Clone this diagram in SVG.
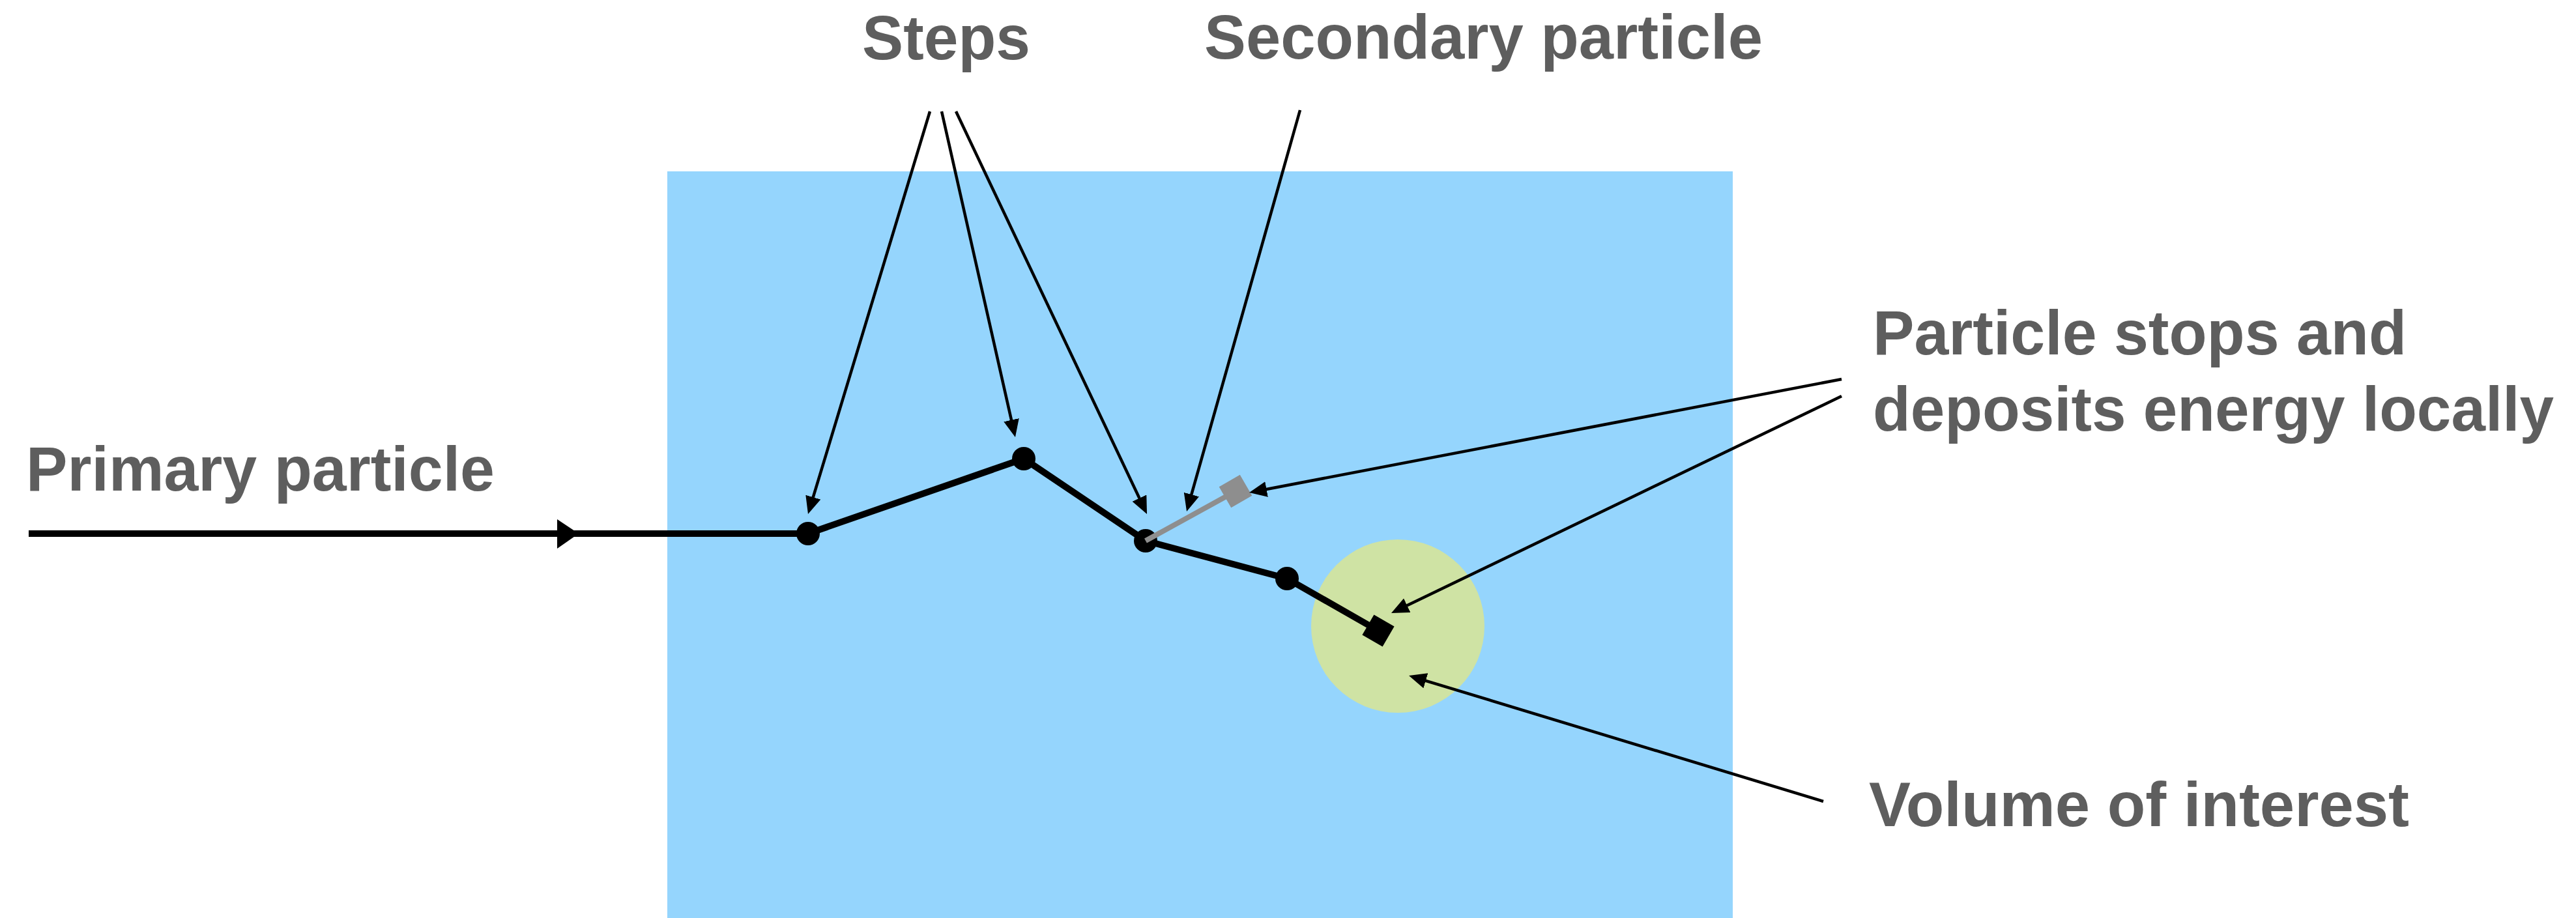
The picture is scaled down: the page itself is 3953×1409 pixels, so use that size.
<svg xmlns="http://www.w3.org/2000/svg" width="3953" height="1409" viewBox="0 0 3953 1409">
  <defs>
    <marker id="ah" markerUnits="userSpaceOnUse" markerWidth="30" markerHeight="26" refX="19" refY="12" orient="auto">
      <path d="M0,0 L27,12 L0,24 z" fill="#000"/>
    </marker>
    <style>
      .lbl { font-family: "Liberation Sans", Arial, sans-serif; font-weight: bold; font-size: 97px; fill: #5e5e5e; }
      .ptr { stroke: #000; stroke-width: 4.5; fill: none; marker-end: url(#ah); }
      .trk { stroke: #000; stroke-width: 10; fill: none; stroke-linejoin: round; }
      .dot { fill: #000; }
    </style>
  </defs>
  <rect width="3953" height="1409" fill="#fff"/>

  <g id="medium">
    <rect x="1024" y="263" width="1635" height="1146" fill="#95d5fd"/>
  </g>
  <g id="volume-of-interest">
    <circle cx="2145" cy="961" r="133" fill="#cfe3a4"/>
  </g>

  <g id="primary-track">
    <polyline class="trk" points="44,819 1240,819 1571,704 1758,830 1975,888 2115,968"/>
    <polygon points="855,797 888,819 855,842" fill="#000"/>
    <circle class="dot" cx="1240" cy="819" r="18"/>
    <circle class="dot" cx="1571" cy="704" r="18"/>
    <circle class="dot" cx="1758" cy="830" r="18"/>
    <circle class="dot" cx="1975" cy="888" r="18"/>
    <rect x="-18" y="-18" width="36" height="36" fill="#000" transform="translate(2115,968) rotate(30)"/>
  </g>

  <g id="secondary-track">
    <line x1="1758" y1="830" x2="1896" y2="754" stroke="#8e8e8e" stroke-width="8"/>
    <rect x="-18.5" y="-18.5" width="37" height="37" fill="#8e8e8e" transform="translate(1896,754) rotate(-30)"/>
  </g>

  <g id="connectors">
    <line class="ptr" x1="1427" y1="171" x2="1242.3" y2="781.3"/>
    <line class="ptr" x1="1445" y1="171" x2="1556.2" y2="663.2"/>
    <line class="ptr" x1="1467" y1="171" x2="1756.6" y2="781.8"/>
    <line class="ptr" x1="1995" y1="169" x2="1823.2" y2="777.3"/>
    <line class="ptr" x1="2826" y1="582" x2="1924.9" y2="754.5"/>
    <line class="ptr" x1="2826" y1="608" x2="2142.2" y2="937.5"/>
    <line class="ptr" x1="2798" y1="1230" x2="2169.7" y2="1039.3"/>
  </g>

  <g id="label-steps">
    <text class="lbl" x="1323" y="91" textLength="258" lengthAdjust="spacingAndGlyphs">Steps</text>
  </g>
  <g id="label-secondary">
    <text class="lbl" x="1848" y="90" textLength="857" lengthAdjust="spacingAndGlyphs">Secondary particle</text>
  </g>
  <g id="label-primary">
    <text class="lbl" x="40" y="753" textLength="719" lengthAdjust="spacingAndGlyphs">Primary particle</text>
  </g>
  <g id="label-stops">
    <text class="lbl" x="2874" y="544" textLength="819" lengthAdjust="spacingAndGlyphs">Particle stops and</text>
    <text class="lbl" x="2874" y="661" textLength="1045" lengthAdjust="spacingAndGlyphs">deposits energy locally</text>
  </g>
  <g id="label-volume">
    <text class="lbl" x="2868" y="1268" textLength="829" lengthAdjust="spacingAndGlyphs">Volume of interest</text>
  </g>
</svg>
